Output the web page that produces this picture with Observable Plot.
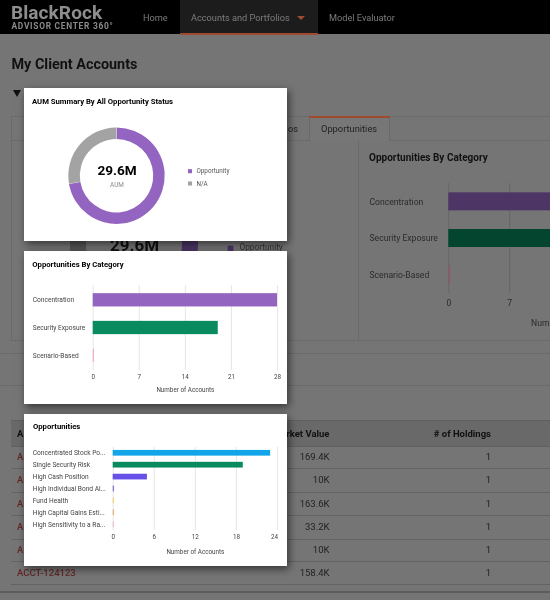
<!DOCTYPE html>
<html>
<head>
<meta charset="utf-8">
<script src="https://cdn.jsdelivr.net/npm/d3@7"></script>
<script src="https://cdn.jsdelivr.net/npm/@observablehq/plot@0.6"></script>
<style>
  html,body{margin:0;padding:0;width:550px;height:600px;overflow:hidden;background:#757575;}
  #page{position:relative;width:550px;height:600px;overflow:hidden;font-family:Roboto,sans-serif;background:#757575;filter:blur(.45px);}
  .t{position:absolute;white-space:nowrap;transform:translateY(-50%);line-height:1;}
  .b{position:absolute;}
  .card{position:absolute;left:24px;width:263px;height:153px;background:#fff;box-shadow:2px 3px 8px rgba(0,0,0,.55);overflow:hidden;}
  .abs{position:absolute;left:0;top:0;}
  svg{display:block;}
</style>
</head>
<body>
<div id="page"></div>
<script>
// ---- data ----
const statusLabels = ["Opportunity", "N/A"];
const statusValues = [21.4, 8.2];
const categoryLabels = ["Concentration", "Security Exposure", "Scenario-Based"];
const categoryValues = [28, 19, 0.2];
const categoryTicks = [0, 7, 14, 21, 28];
const opportunityLabels = ["Concentrated Stock Po...", "Single Security Risk", "High Cash Position", "High Individual Bond Al...", "Fund Health", "High Capital Gains Esti...", "High Sensitivity to a Ra..."];
const opportunityValues = [23, 19, 5, 0.2, 0.2, 0.2, 0.2];
const opportunityTicks = [0, 6, 12, 18];
const opportunityLastTick = [24];
const accountIds = ["A", "A", "A", "A", "A", "ACCT-124123"];
const marketValues = ["169.4K", "10K", "163.6K", "33.2K", "10K", "158.4K"];
const holdings = ["1", "1", "1", "1", "1", "1"];
const rowCentres = [457, 480, 503.5, 526.5, 550, 572.5];
const rowLines = [468, 491.5, 515, 538.5, 561, 584];

// ---- colours ----
const cardStatusColors = ["#9465c0", "#a3a3a3"];
const backStatusColors = ["#4c3666", "#555555"];
const cardCategoryColors = ["#9465c0", "#0a8a5f", "#f0b4c4"];
const backCategoryColors = ["#4d3566", "#03452f", "#8a5a68"];
const opportunityColors = ["#12a5e8", "#0a8a5f", "#6650e8", "#8878d8", "#f5d57a", "#eeb27a", "#eac3d8"];

const page = document.getElementById("page");
function t(text, x, y, css, right) {
  const s = document.createElement("div");
  s.className = "t";
  s.textContent = text;
  s.style.cssText = (right ? `right:${550 - x}px;` : `left:${x}px;`) + `top:${y}px;` + css;
  (this && this.appendChild ? this : page).appendChild(s);
  return s;
}
function box(x, y, w, h, css, parent) {
  const s = document.createElement("div");
  s.className = "b";
  s.style.cssText = `left:${x}px;top:${y}px;width:${w}px;height:${h}px;` + css;
  (parent || page).appendChild(s);
  return s;
}

// ---- header ----
box(0, 0, 550, 34, "background:#000;");
box(180, 0, 138, 34, "background:#1c1c1c;");
box(180, 33, 138, 2, "background:#a04a30;");
t("BlackRock", 11, 12.5, "color:#8e8e8e;font-weight:700;font-size:19px;letter-spacing:.1px;line-height:.8;");
t("ADVISOR CENTER 360°", 11.5, 26, "color:#8a8a8a;font-weight:700;font-size:8.4px;letter-spacing:.72px;line-height:.8;");
t("Home", 143, 17.5, "color:#7c7c7c;font-size:9.2px;");
t("Accounts and Portfolios", 191, 17.5, "color:#7c7c7c;font-size:9.2px;");
box(297, 16, 0, 0, "border-left:4px solid transparent;border-right:4px solid transparent;border-top:4px solid #a04a30;");
t("Model Evaluator", 329, 17.5, "color:#7c7c7c;font-size:9.2px;");

// ---- page title and filter ----
t("My Client Accounts", 11.5, 65, "color:#111;font-weight:700;font-size:14.4px;");
box(13, 89.5, 0, 0, "border-left:4px solid transparent;border-right:4px solid transparent;border-top:7px solid #111;");

// ---- tab panel ----
box(11, 116, 539, 24, "border-top:1px solid #6a6a6a;box-sizing:border-box;");
box(11, 116, 1, 224, "background:#6a6a6a;");
box(11, 140, 298, 1, "background:#6a6a6a;");
box(390, 140, 160, 1, "background:#6a6a6a;");
box(309, 117, 81, 24, "background:#777;border-left:1px solid #6a6a6a;border-right:1px solid #6a6a6a;box-sizing:border-box;");
box(309, 115.5, 81, 2, "background:#a04a30;");
t("os", 288, 128.5, "color:#222;font-size:9.3px;");
t("Opportunities", 321, 128.5, "color:#222;font-size:9.3px;");
box(358, 140, 1, 200, "background:#6a6a6a;");
box(11, 340, 539, 1, "background:#6a6a6a;");
box(0, 352.5, 550, 1, "background:#6a6a6a;");
box(0, 385, 550, 1, "background:#6a6a6a;");

// ---- table ----
box(11, 420, 539, 26, "background:#696969;");
box(11, 420, 539, 1, "background:#5f5f5f;");
box(11, 446, 539, 1, "background:#606060;");
rowLines.forEach(y => box(11, y, 539, 1, "background:#636363;"));
box(0, 591, 550, 1.5, "background:#5c5c5c;");
t("A", 17, 434, "color:#111;font-weight:700;font-size:9.5px;");
t("Market Value", 329.5, 434, "color:#111;font-weight:700;font-size:9.5px;", true);
t("# of Holdings", 491, 434, "color:#111;font-weight:700;font-size:9.5px;", true);
rowCentres.forEach((y, i) => {
  t(accountIds[i], 17, y, "color:#642828;font-size:9.5px;font-weight:500;");
  t(marketValues[i], 329.5, y, "color:#222;font-size:9.5px;", true);
  t(holdings[i], 491, y, "color:#222;font-size:9.5px;", true);
});

// ---- donut helper (a Plot render mark built from the values) ----
function donut(values, colors, cx, cy, outer, inner) {
  return () => {
    const g = d3.create("svg:g").attr("transform", `translate(${cx},${cy})`);
    const arcs = d3.pie().sort(null)(values);
    const arc = d3.arc().outerRadius(outer).innerRadius(inner).padAngle(0.006);
    g.selectAll("path").data(arcs).join("path").attr("d", arc).attr("fill", (d, i) => colors[i]);
    return g.node();
  };
}
function anchored(text, dx, dy, o) {
  return Plot.text([text], {text: d => d, frameAnchor: "top-left", dx, dy, lineAnchor: "middle", textAnchor: "start", ...o});
}

// ---- background donut (dimmed, behind the cards) ----
const backDonut = Plot.plot({
  width: 300, height: 190, margin: 0, x: {axis: null}, y: {axis: null},
  style: {background: "transparent", fontFamily: "Roboto"},
  marks: [
    donut(statusValues, backStatusColors, 134, 95, 64, 48),
    Plot.text(["29.6M"], {text: d => d, frameAnchor: "top-left", dx: 134, dy: 95, textAnchor: "middle", lineAnchor: "middle", fontSize: 17, fontWeight: 700, fill: "#111"}),
    Plot.dot([0], {frameAnchor: "top-left", dx: 230, dy: 98, symbol: "square", r: 3.2, fill: backStatusColors[0]}),
    anchored(statusLabels[0], 239, 97, {fontSize: 8.3, fill: "#333"})
  ]
});
backDonut.classList.add("abs");
backDonut.style.cssText += "left:0;top:150px;position:absolute;";
page.appendChild(backDonut);

// ---- background category chart (dimmed) ----
const backBars = Plot.plot({
  width: 352, height: 193, marginLeft: 88.3, marginRight: 20, marginTop: 33, marginBottom: 50,
  x: {domain: [0, 28]},
  y: {domain: categoryLabels, paddingInner: 0.51, paddingOuter: 0.255, round: false},
  style: {background: "transparent", fontFamily: "Roboto", fontSize: "8.6px", overflow: "visible"},
  marks: [
    Plot.gridX(categoryTicks, {stroke: "#656565", strokeOpacity: 1}),
    Plot.barX(categoryLabels, {x: (d, i) => categoryValues[i], y: d => d, fill: (d, i) => backCategoryColors[i]}),
    Plot.axisY({textAnchor: "start", tickSize: 0, tickPadding: 79.3, label: null, fill: "#2b2b2b"}),
    Plot.axisX(categoryTicks.slice(0, 2), {tickSize: 0, tickPadding: 6, label: "Number of Accounts", labelAnchor: "center", labelArrow: "none", labelOffset: 32, fill: "#2b2b2b"})
  ]
});
backBars.style.cssText += "left:360px;top:150px;position:absolute;";
page.appendChild(backBars);
t("Opportunities By Category", 369, 157.5, "color:#111;font-weight:700;font-size:10px;");

// ---- card 1 : donut ----
const card1 = box(24, 88, 263, 153, "", page); card1.className = "card";
t.call(card1, "AUM Summary By All Opportunity Status", 8, 13.5, "color:#000;font-weight:700;font-size:7.7px;");
const front = Plot.plot({
  width: 263, height: 153, margin: 0, x: {axis: null}, y: {axis: null},
  style: {background: "transparent", fontFamily: "Roboto"},
  marks: [
    donut(statusValues, cardStatusColors, 92.5, 87.7, 48.2, 36.7),
    Plot.text(["29.6M"], {text: d => d, frameAnchor: "top-left", dx: 92.5, dy: 82, textAnchor: "middle", lineAnchor: "middle", fontSize: 13.6, fontWeight: 700, fill: "#000"}),
    Plot.text(["AUM"], {text: d => d, frameAnchor: "top-left", dx: 92.5, dy: 96, textAnchor: "middle", lineAnchor: "middle", fontSize: 6.4, fill: "#8a8a8a"}),
    Plot.dot([0], {frameAnchor: "top-left", dx: 165.5, dy: 82.7, symbol: "square", r: 2.3, fill: cardStatusColors[0]}),
    Plot.dot([0], {frameAnchor: "top-left", dx: 165.5, dy: 95, symbol: "square", r: 2.3, fill: cardStatusColors[1]}),
    anchored(statusLabels[0], 172, 82.7, {fontSize: 6.3, fill: "#555"}),
    anchored(statusLabels[1], 172, 95, {fontSize: 6.3, fill: "#555"})
  ]
});
front.classList.add("abs");
card1.appendChild(front);

// ---- card 2 : category bars ----
const card2 = box(24, 251, 263, 153, "", page); card2.className = "card";
t.call(card2, "Opportunities By Category", 8.3, 14, "color:#000;font-weight:700;font-size:7.7px;");
const bars = Plot.plot({
  width: 263, height: 153, marginLeft: 68.7, marginRight: 10, marginTop: 34, marginBottom: 34,
  x: {domain: [0, 28]},
  y: {domain: categoryLabels, paddingInner: 0.52, paddingOuter: 0.295, round: false},
  style: {background: "transparent", fontFamily: "Roboto", fontSize: "6.6px"},
  marks: [
    Plot.gridX(categoryTicks, {stroke: "#e6e6e6", strokeOpacity: 1}),
    Plot.barX(categoryLabels, {x: (d, i) => categoryValues[i], y: d => d, fill: (d, i) => cardCategoryColors[i]}),
    Plot.axisY({textAnchor: "start", tickSize: 0, tickPadding: 60.4, label: null, fill: "#444"}),
    Plot.axisX(categoryTicks, {tickSize: 0, tickPadding: 4, label: "Number of Accounts", labelAnchor: "center", labelArrow: "none", labelOffset: 21, fontSize: 6.3, fill: "#444"})
  ]
});
bars.classList.add("abs");
card2.appendChild(bars);

// ---- card 3 : opportunity bars ----
const card3 = box(24, 414, 263, 152, "", page); card3.className = "card";
t.call(card3, "Opportunities", 9, 13, "color:#000;font-weight:700;font-size:7.7px;");
const oppBars = Plot.plot({
  width: 263, height: 152, marginLeft: 88.7, marginRight: 10, marginTop: 33, marginBottom: 36,
  x: {domain: [0, 24]},
  y: {domain: opportunityLabels, paddingInner: 0.52, paddingOuter: 0.245, round: false},
  style: {background: "transparent", fontFamily: "Roboto", fontSize: "6.6px"},
  marks: [
    Plot.gridX([...opportunityTicks, ...opportunityLastTick], {stroke: "#e6e6e6", strokeOpacity: 1}),
    Plot.barX(opportunityLabels, {x: (d, i) => opportunityValues[i], y: d => d, fill: (d, i) => opportunityColors[i]}),
    Plot.axisY({textAnchor: "start", tickSize: 0, tickPadding: 80.4, label: null, fill: "#444"}),
    Plot.axisX(opportunityTicks, {tickSize: 0, tickPadding: 4, label: "Number of Accounts", labelAnchor: "center", labelArrow: "none", labelOffset: 23, fontSize: 6.3, fill: "#444"}),
    Plot.axisX(opportunityLastTick, {tickSize: 0, tickPadding: 4, dx: -3, label: null, fontSize: 6.3, fill: "#444"})
  ]
});
oppBars.classList.add("abs");
card3.appendChild(oppBars);
</script>
</body>
</html>
